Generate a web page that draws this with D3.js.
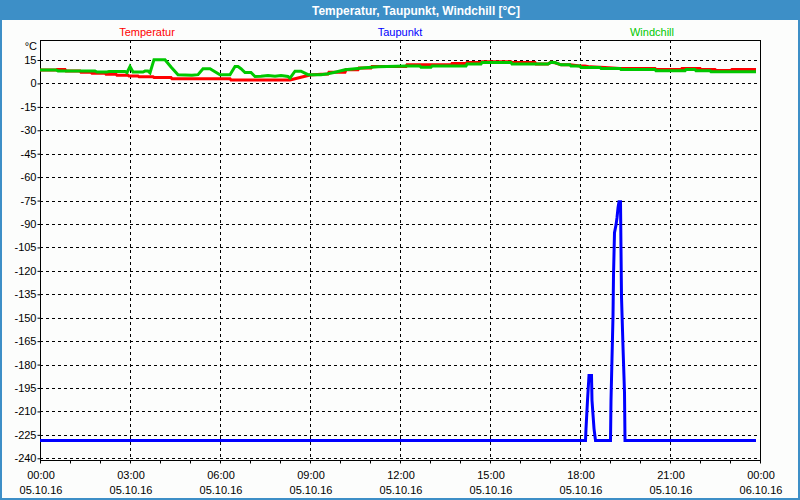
<!DOCTYPE html>
<html><head><meta charset="utf-8">
<script src="https://cdn.jsdelivr.net/npm/d3@7"></script>
<style>
html,body{margin:0;padding:0;background:#fcfdfc;}
svg{display:block;font-family:"Liberation Sans",Arial,sans-serif;}
</style></head>
<body>
<svg id="chart" width="800" height="500"></svg>
<script>
// ---------- data ----------
const chartTitle = "Temperatur, Taupunkt, Windchill [°C]";
const seriesNames = ["Temperatur", "Taupunkt", "Windchill"];
const seriesColors = ["#ff0000", "#0000ff", "#00c800"];
const dayStart = "2016-10-05 00:00";
const dayEnd = "2016-10-06 00:00";
const yTicks = [15,0,-15,-30,-45,-60,-75,-90,-105,-120,-135,-150,-165,-180,-195,-210,-225,-240];
const yDomain = [-241.1, 27.8];
const xTickHours = [0,3,6,9,12,15,18,21,24];

const temperatur = [
 ["00:00",8.6],["00:32",8.6],["00:34",8.9],["00:50",8.9],["00:52",8.0],["01:20",8.0],["01:22",7.1],
 ["01:42",7.1],["01:44",6.5],["02:10",6.5],["02:12",5.9],["02:32",5.9],["02:34",5.2],["02:56",5.2],
 ["02:58",4.7],["03:16",4.7],["03:18",4.3],["03:46",4.3],["03:48",3.8],["04:22",3.8],["04:24",3.0],
 ["06:20",3.0],["06:22",2.2],["08:20",2.2],["08:42",4.0],["09:00",5.4],["09:22",5.9],["09:36",6.0],
 ["09:38",7.2],["10:10",7.2],["10:12",8.7],["10:36",8.7],["10:38",9.8],["11:02",9.8],["11:04",10.8],
 ["12:12",10.8],["12:14",11.9],["13:42",11.9],["13:44",12.7],["14:12",12.7],["14:14",13.4],["14:42",13.4],
 ["14:44",13.8],["15:42",13.8],["15:44",13.4],["16:30",13.4],["16:32",12.4],["16:56",12.4],["17:02",13.6],
 ["17:10",13.2],["17:22",11.9],["17:40",11.9],["18:00",11.1],["18:10",11.1],["18:20",10.6],["18:50",10.2],
 ["19:20",9.6],["20:30",9.6],["20:32",8.9],["21:22",8.9],["21:24",9.6],["22:00",9.6],["22:02",8.9],
 ["22:30",8.9],["22:32",8.3],["23:02",8.3],["23:04",8.9],["23:52",8.9]
];
const taupunkt = [
 ["00:00",-228.6],["18:11",-228.6],["18:12",-221],["18:15",-203],["18:18",-187],["18:23",-187],
 ["18:24",-203],["18:28",-221],["18:31",-228.6],["19:01",-228.6],["19:02",-203],["19:04",-176],
 ["19:06",-149],["19:07",-123],["19:09",-95.6],["19:12",-90.7],["19:14",-86],["19:16",-79.8],
 ["19:18",-75.8],["19:21",-75.8],["19:22",-106.7],["19:23",-136.6],["19:26",-168.6],["19:29",-198],
 ["19:30",-228.6],["23:52",-228.6]
];
const windchill = [
 ["00:00",8.6],["00:32",8.6],["00:36",8.0],["01:50",8.0],["01:54",7.3],["02:14",7.3],["02:18",7.6],
 ["02:50",7.6],["02:54",6.9],["03:00",10.8],["03:06",7.3],["03:26",7.3],["03:30",7.9],["03:36",7.9],
 ["03:40",6.8],["03:48",15.2],["04:10",15.2],["04:22",10.5],["04:36",5.6],["05:04",5.2],["05:16",5.6],
 ["05:26",9.4],["05:40",9.4],["06:00",5.6],["06:20",5.6],["06:30",10.8],["06:36",10.8],["06:42",9.4],
 ["06:50",7.0],["07:02",7.0],["07:10",4.4],["07:22",4.6],["07:36",5.0],["07:50",4.6],["08:02",5.0],
 ["08:16",4.4],["08:20",3.4],["08:30",7.8],["08:42",7.8],["08:56",5.6],["09:22",5.6],["09:36",6.2],
 ["09:50",7.2],["10:10",8.7],["10:30",9.4],["10:50",10.0],["11:16",10.6],["12:12",11.1],["12:40",11.1],
 ["12:42",10.4],["13:02",10.4],["13:04",11.1],["14:12",11.1],["14:14",12.4],["14:42",12.4],["14:44",13.4],
 ["15:42",13.4],["15:44",12.4],["16:56",12.4],["17:02",13.6],["17:10",13.4],["17:22",11.9],["17:40",11.9],
 ["17:42",11.1],["18:00",11.1],["18:02",10.2],["18:40",10.2],["18:42",9.6],["19:20",9.6],["19:22",8.9],
 ["20:30",8.9],["20:32",8.1],["21:30",8.1],["21:32",8.9],["21:50",8.9],["21:52",8.1],["22:20",8.1],
 ["22:22",7.4],["23:52",7.4]
];
const allSeries = [temperatur, taupunkt, windchill];

// ---------- layout ----------
const W = 800, H = 500;
const plot = {left: 40, right: 760, top: 40, bottom: 460};
const svg = d3.select("#chart");
const parse = d3.timeParse("%Y-%m-%d %H:%M");
const t0 = parse(dayStart), t1 = parse(dayEnd);
const at = s => parse("2016-10-05 " + s);

const x = d3.scaleTime().domain([t0, t1]).range([plot.left, plot.right]);
const y = d3.scaleLinear().domain(yDomain).range([plot.bottom, plot.top]);

// background + frame
svg.append("rect").attr("x",0).attr("y",0).attr("width",W).attr("height",H).attr("fill","#fcfdfc");
svg.append("rect").attr("x",0).attr("y",0).attr("width",W).attr("height",20).attr("fill","#3d8fc7");
svg.append("rect").attr("x",1).attr("y",1).attr("width",W-2).attr("height",H-2)
  .attr("fill","none").attr("stroke","#3d8fc7").attr("stroke-width",2);

// title
const title = svg.append("text").attr("x",416).attr("y",15).attr("text-anchor","middle")
  .attr("fill","#ffffff").attr("font-weight","bold").attr("font-size",12).text(chartTitle);
{
  const w = title.node().getComputedTextLength();
  title.attr("font-size", 12 * 208 / w);
}

// legend
const legendX = [147, 400, 652];
seriesNames.forEach((n,i) => {
  svg.append("text").attr("x",legendX[i]).attr("y",36).attr("text-anchor","middle")
    .attr("font-size",11).attr("fill",seriesColors[i]).text(n);
});

// grid
const grid = svg.append("g").attr("stroke","#000").attr("stroke-width",1)
  .attr("stroke-dasharray","3,3").attr("shape-rendering","crispEdges");
yTicks.forEach(v => {
  grid.append("line").attr("x1",plot.left).attr("x2",plot.right)
    .attr("y1",Math.round(y(v))+0.5).attr("y2",Math.round(y(v))+0.5);
});
xTickHours.slice(1,-1).forEach(h => {
  const xx = Math.round(x(d3.timeHour.offset(t0,h)))+0.5;
  grid.append("line").attr("x1",xx).attr("x2",xx).attr("y1",plot.top).attr("y2",plot.bottom);
});

// plot border
svg.append("rect").attr("x",plot.left+0.5).attr("y",plot.top+0.5)
  .attr("width",plot.right-plot.left).attr("height",plot.bottom-plot.top)
  .attr("fill","none").attr("stroke","#000").attr("stroke-width",1).attr("shape-rendering","crispEdges");

// y axis
const yAxis = d3.axisLeft(y).tickValues(yTicks).tickSize(3).tickPadding(1).tickFormat(d => String(d));
const gy = svg.append("g").attr("transform",`translate(${plot.left+0.5},0)`).call(yAxis);
gy.select(".domain").remove();
gy.selectAll("text").attr("font-size",11).attr("fill","#000")
  .attr("font-family","'Liberation Sans',Arial,sans-serif");
gy.selectAll("line").attr("stroke","#000");
svg.append("text").attr("x",37).attr("y",50).attr("text-anchor","end").attr("font-size",11).text("°C");

// x axis
const xAxis = d3.axisBottom(x).ticks(d3.timeHour.every(1)).tickSize(3).tickFormat("");
const gx = svg.append("g").attr("transform",`translate(0,${plot.bottom+0.5})`).call(xAxis);
gx.select(".domain").remove();
gx.selectAll("line").attr("stroke","#000");
const fTime = d3.timeFormat("%H:%M"), fDate = d3.timeFormat("%d.%m.%y");
xTickHours.forEach(h => {
  const d = d3.timeHour.offset(t0,h);
  const xx = x(d);
  svg.append("text").attr("x",xx+1).attr("y",479).attr("text-anchor","middle").attr("font-size",11).text(fTime(d));
  svg.append("text").attr("x",xx+1).attr("y",494).attr("text-anchor","middle").attr("font-size",11).text(fDate(d));
});

// lines
const line = d3.line().x(d => x(at(d[0]))).y(d => y(d[1]));
allSeries.forEach((s,i) => {
  svg.append("path").datum(s).attr("d",line).attr("fill","none")
    .attr("stroke",seriesColors[i]).attr("stroke-width",3).attr("stroke-linejoin","miter")
    .attr("stroke-linecap","butt");
});
</script>
</body></html>
